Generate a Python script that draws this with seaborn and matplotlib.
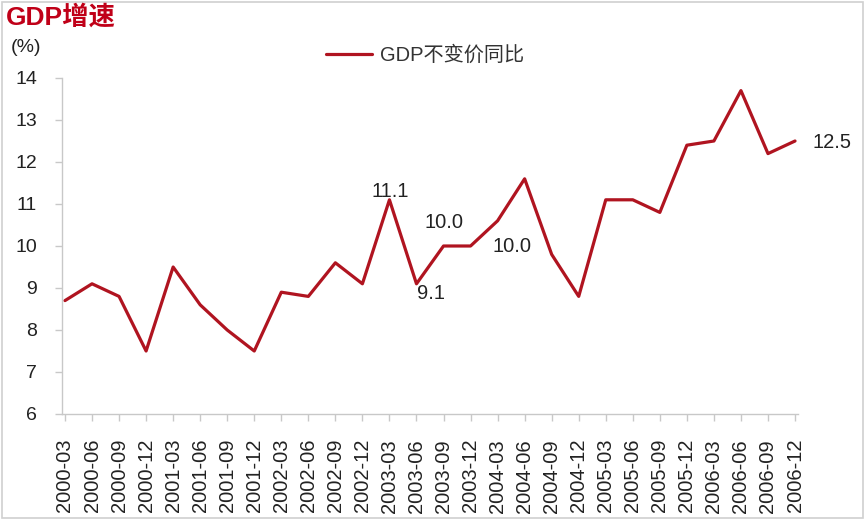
import matplotlib
matplotlib.use("Agg")
import matplotlib.pyplot as plt
import seaborn as sns
import pandas as pd
from matplotlib.patches import Rectangle

quarters = ["2000-03", "2000-06", "2000-09", "2000-12",
            "2001-03", "2001-06", "2001-09", "2001-12",
            "2002-03", "2002-06", "2002-09", "2002-12",
            "2003-03", "2003-06", "2003-09", "2003-12",
            "2004-03", "2004-06", "2004-09", "2004-12",
            "2005-03", "2005-06", "2005-09", "2005-12",
            "2006-03", "2006-06", "2006-09", "2006-12"]
gdp_yoy = [8.7, 9.1, 8.8, 7.5,
           9.5, 8.6, 8.0, 7.5,
           8.9, 8.8, 9.6, 9.1,
           11.1, 9.1, 10.0, 10.0,
           10.6, 11.6, 9.8, 8.8,
           11.1, 11.1, 10.8, 12.4,
           12.5, 13.7, 12.2, 12.5]
yticks = [6, 7, 8, 9, 10, 11, 12, 13, 14]
series_name = "GDP不变价同比"
title_text = "GDP增速"
unit_text = "(%)"
# annotated points: (index, offset_x_px, offset_y_px, ha)
annotations = [(12, 1, 8, "center"),
               (13, 15, -10, "center"),
               (14, 0, 24, "center"),
               (15, 41, -1, "center"),
               (27, 17, -2, "left")]

sns.set_theme(style="white")
plt.rcParams['font.family'] = ['Liberation Sans', 'Noto Sans CJK SC', 'DejaVu Sans']

df = pd.DataFrame({"pos": range(len(quarters)), "value": gdp_yoy, "series": series_name})

fig = plt.figure(figsize=(8.65, 5.2), dpi=100)
ax_left, ax_right, ax_top, ax_bottom = 62, 798, 78, 414
ax = fig.add_axes([ax_left / 865, 1 - ax_bottom / 520,
                   (ax_right - ax_left) / 865, (ax_bottom - ax_top) / 520])

line_color = "#B01420"
sns.lineplot(data=df, x="pos", y="value", hue="series", palette=[line_color],
             linewidth=2.3, ax=ax, legend=True)

ax.set_xlim(-0.11, 27.11)
ax.set_ylim(6, 14)
ax.set_yticks(yticks)
ax.set_yticklabels([str(v) for v in yticks], fontsize=14, color="#222222")
ax.set_xticks(range(len(quarters)))
ax.set_xticklabels(quarters, rotation=90, fontsize=14.5, color="#222222")
ax.set_xlabel("")
ax.set_ylabel("")

for side in ["top", "right"]:
    ax.spines[side].set_visible(False)
for side in ["left", "bottom"]:
    ax.spines[side].set_color("#c8c8c8")
    ax.spines[side].set_linewidth(1.0)
ax.tick_params(axis="y", which="both", length=5, width=1, color="#c8c8c8",
               direction="out", left=True, pad=13)
ax.tick_params(axis="x", which="both", length=5, width=1, color="#c8c8c8",
               direction="out", bottom=True, pad=13)

for idx, dx, dy, ha in annotations:
    ax.annotate(f"{gdp_yoy[idx]:.1f}", (idx, gdp_yoy[idx]),
                xytext=(dx * 0.72, dy * 0.72), textcoords="offset points",
                ha=ha, va="center", fontsize=14.5, color="#222222")

leg = ax.legend(loc="center", bbox_to_anchor=(425 / 865, 1 - 55 / 520),
                bbox_transform=fig.transFigure, frameon=False, fontsize=14.5,
                handlelength=2.3, handletextpad=0.4, borderpad=0, borderaxespad=0)
for t in leg.get_texts():
    t.set_color("#333333")

fig.text(6 / 865, 1 - 17 / 520, title_text, fontsize=19, fontweight="bold",
         color="#C00018", ha="left", va="center")
fig.text(11 / 865, 1 - 48 / 520, unit_text, fontsize=14, color="#222222",
         ha="left", va="center")

fig.patches.append(Rectangle((0.002, 0.003), 0.996, 0.994, transform=fig.transFigure,
                             fill=False, edgecolor="#d0d0d0", linewidth=1.2))

fig.savefig("out.png", dpi=100, facecolor="white")
